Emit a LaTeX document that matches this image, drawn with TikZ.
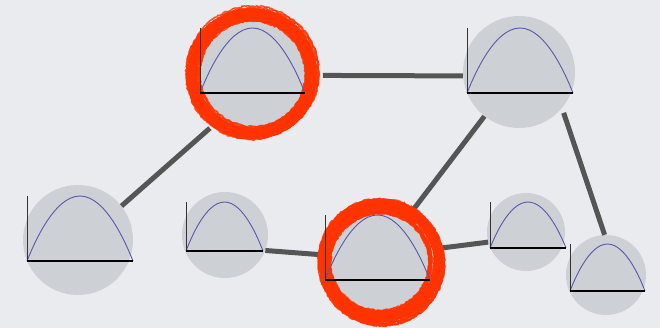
\documentclass[tikz,border=0pt]{standalone}
\usetikzlibrary{decorations.pathmorphing}
\definecolor{bg}{RGB}{233,235,239}
\definecolor{nodegray}{RGB}{205,208,212}
\definecolor{edgegray}{RGB}{85,85,85}
\definecolor{curveblue}{RGB}{88,88,170}
\definecolor{ringred}{RGB}{255,51,0}
\tikzset{
  gnode/.style={circle, fill=nodegray, draw=none, inner sep=0pt},
  link/.style={draw=edgegray, line width=5pt},
  xaxis/.style={black, line width=1.2pt},
  yaxis/.style={black!80, line width=0.8pt},
  curvestyle/.style={curveblue, line width=0.9pt},
  brush/.style={ringred, opacity=0.85, decorate,
    decoration={random steps, segment length=2pt, amplitude=0.8pt}},
}
\newcommand\arcplot[4]{%
  \draw[curvestyle] (#1,#3) parabola bend ({(#1+#2)/2},#4) (#2,#3);
  \draw[yaxis] (#1,#4) -- (#1,#3);
  \draw[xaxis] (#1,#3) -- (#2,#3);
}
\newcommand\brushring[4]{%
  \foreach \k in {1,...,46}{
    \pgfmathsetmacro\rr{#3+#4*rand}
    \pgfmathsetmacro\ddx{2*rand}
    \pgfmathsetmacro\ddy{2*rand}
    \pgfmathsetmacro\lw{1.2+0.9*rnd}
    \draw[brush, line width=\lw pt] ({#1+\ddx},{#2+\ddy}) circle [radius=\rr];
  }%
}
\begin{document}
\begin{tikzpicture}[x=1pt, y=-1pt]
  \fill[bg] (0,0) rectangle (660,328);
  \useasboundingbox (0,0) rectangle (660,328);
  \pgfmathsetseed{7}
  % nodes
  \node[gnode, minimum size=112pt, outer sep=14pt] (A) at (253,73) {};
  \node[gnode, minimum size=112pt] (B) at (519,72) {};
  \node[gnode, minimum size=110pt] (C) at (78,240) {};
  \node[gnode, minimum size=86pt] (D) at (225,235) {};
  \node[gnode, minimum size=108pt, outer sep=8pt] (E) at (380,261) {};
  \node[gnode, minimum size=78pt] (F) at (526,232) {};
  \node[gnode, minimum size=80pt] (G) at (606,275) {};
  % connectors
  \draw[link] (C.38) -- (A.232);
  \draw[link] (A.-2.5) -- (B.184);
  \draw[link] (B.232) -- (E.57);
  \draw[link, shorten <=5pt] (B.-40) -- (G.92);
  \draw[link] (D.-21) -- (E.174);
  \draw[link] (E.12) -- (F.195);
  % red rings
  \brushring{252}{74}{60}{6.5}
  \brushring{381}{262}{56}{6.5}
  % plots
  \arcplot{200}{305}{93}{28}
  \arcplot{467}{573}{93}{28}
  \arcplot{27}{133}{261}{196}
  \arcplot{186}{263}{251}{202}
  \arcplot{325}{430}{280}{215}
  \arcplot{490}{566}{248}{202}
  \arcplot{570}{645}{291}{244}
\end{tikzpicture}
\end{document}
